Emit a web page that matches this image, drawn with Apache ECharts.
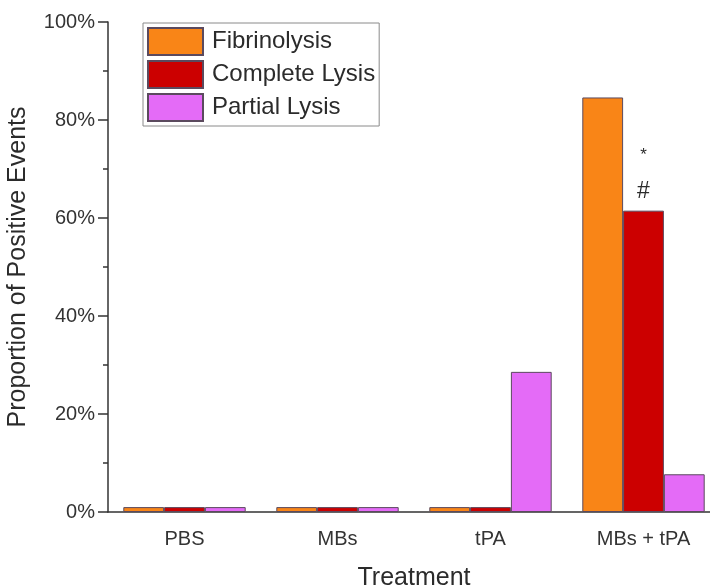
<!DOCTYPE html>
<html>
<head>
<meta charset="utf-8">
<script src="https://cdn.jsdelivr.net/npm/echarts@6/dist/echarts.min.js"></script>
<style>
  html, body { margin: 0; padding: 0; background: #fff; overflow: hidden; }
  #main { width: 720px; height: 588px; }
</style>
</head>
<body>
<div id="main"></div>
<script>
let categories = ['PBS', 'MBs', 'tPA', 'MBs + tPA'];
let fibrinolysis = [1, 1, 1, 84.6];
let completeLysis = [1, 1, 1, 61.5];
let partialLysis = [1, 1, 28.6, 7.7];
let yTicks = [0, 20, 40, 60, 80, 100];

let font = 'Liberation Sans, Arial, sans-serif';
let edge = '#5b4a5e';
let ink = '#2b2b2b';

function barSeries(name, data, color){
    return {
        type: 'bar',
        name: name,
        data: data,
        barGap: 0,
        barCategoryGap: '20%',
        itemStyle: {color: color, borderColor: edge, borderWidth: 1}
    };
}

// star and hash marks over the complete lysis bar of MBs + tPA
let lysis = completeLysis.map((v, i) => {
    if (i !== 3) return v;
    return {
        value: v,
        label: {
            show: true,
            position: 'top',
            distance: 6,
            formatter: '{s|*}\n{h|#}',
            rich: {
                s: {fontSize: 17, lineHeight: 46, color: ink, fontFamily: font},
                h: {fontSize: 23, lineHeight: 26, color: ink, fontFamily: font}
            }
        }
    };
});

let option = {
    backgroundColor: '#fff',
    animation: false,
    grid: {left: 108, right: 0, top: 22, bottom: 76, containLabel: false, outerBoundsMode: 'none'},
    legend: {
        orient: 'vertical',
        left: 143,
        top: 23,
        icon: 'rect',
        itemWidth: 55,
        itemHeight: 27,
        itemGap: 4,
        padding: [4, 4, 4, 4],
        borderColor: '#8a8a8a',
        borderWidth: 1,
        textStyle: {fontSize: 24, color: ink, fontFamily: font, padding: [0, 0, 0, 4]},
        data: ['Fibrinolysis', 'Complete Lysis', 'Partial Lysis']
    },
    xAxis: [{
        type: 'category',
        data: categories,
        name: 'Treatment',
        nameLocation: 'middle',
        nameGap: 54,
        nameTextStyle: {fontSize: 25, color: ink, fontFamily: font},
        axisLine: {lineStyle: {color: '#333', width: 1.5}},
        axisTick: {alignWithLabel: true, length: 10, lineStyle: {color: '#333', width: 1.5}},
        axisLabel: {fontSize: 20, color: '#333', fontFamily: font, margin: 17}
    }, {
        type: 'category',
        data: categories,
        position: 'bottom',
        axisLine: {show: false},
        axisTick: {length: 5, lineStyle: {color: '#333', width: 1.5}},
        axisLabel: {show: false}
    }],
    yAxis: {
        type: 'value',
        min: yTicks[0],
        max: yTicks[yTicks.length - 1],
        interval: 20,
        name: 'Proportion of Positive Events',
        nameLocation: 'middle',
        nameGap: 77,
        nameTextStyle: {fontSize: 25, color: ink, fontFamily: font},
        axisLine: {show: true, lineStyle: {color: '#333', width: 1.5}},
        axisTick: {show: true, length: 10, lineStyle: {color: '#333', width: 1.5}},
        minorTick: {show: true, splitNumber: 2, length: 5, lineStyle: {color: '#333', width: 1.5}},
        splitLine: {show: false},
        axisLabel: {fontSize: 20, color: '#333', fontFamily: font, margin: 13, formatter: '{value}%'}
    },
    series: [
        barSeries('Fibrinolysis', fibrinolysis, '#f98517'),
        barSeries('Complete Lysis', lysis, '#cc0000'),
        barSeries('Partial Lysis', partialLysis, '#e46bf7')
    ]
};

let chart = echarts.init(document.getElementById('main'));
chart.setOption(option);
</script>
</body>
</html>
